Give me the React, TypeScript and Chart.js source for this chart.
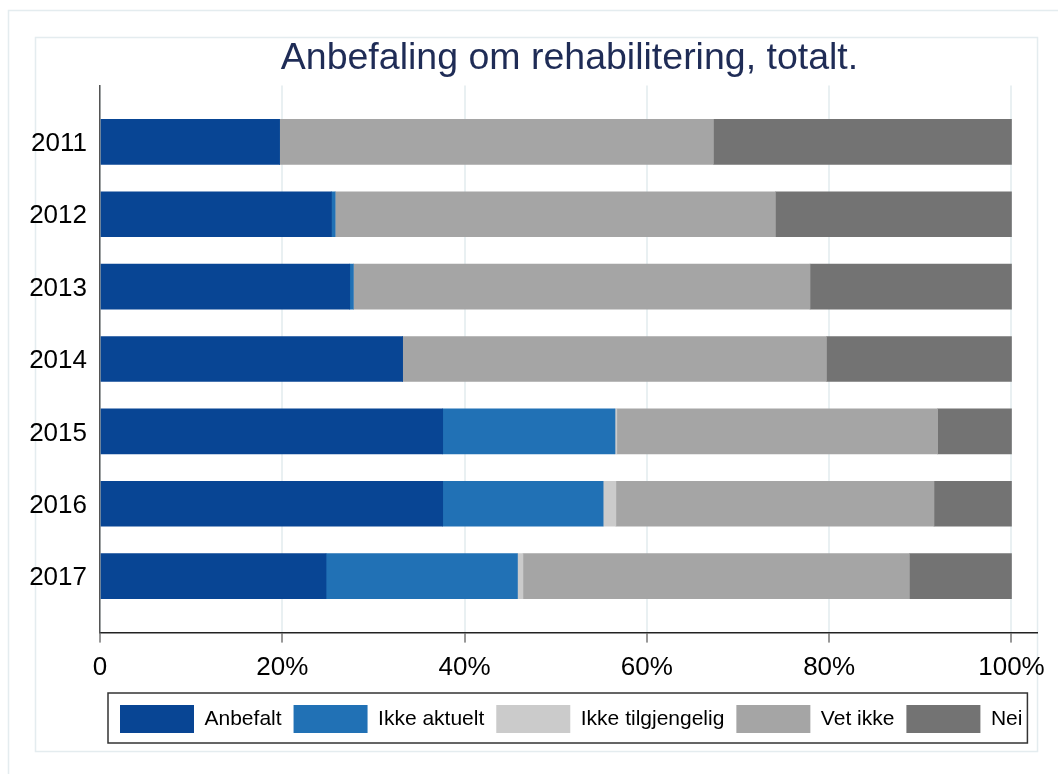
import React, { useEffect, useRef } from "react";
import { Chart, registerables } from "chart.js";

Chart.register(...registerables);

// ---- data ----
const years = ["2011", "2012", "2013", "2014", "2015", "2016", "2017"];
const anbefalt = [19.7, 25.4, 27.4, 33.2, 37.6, 37.6, 24.8];
const ikkeAktuelt = [0, 0.4, 0.4, 0, 18.9, 17.6, 21.0];
const ikkeTilgjengelig = [0, 0, 0, 0, 0.2, 1.4, 0.6];
const vetIkke = [47.6, 48.3, 50.1, 46.5, 35.2, 34.9, 42.4];
const nei = [32.7, 25.9, 22.1, 20.3, 8.1, 8.5, 11.2];
const xTicks = [0, 20, 40, 60, 80, 100];
const seriesNames = ["Anbefalt", "Ikke aktuelt", "Ikke tilgjengelig", "Vet ikke", "Nei"];
const seriesColors = ["#084594", "#2171b5", "#cbcbcb", "#a5a5a5", "#737373"];
const titleText = "Anbefaling om rehabilitering, totalt.";

const FONT = "'Liberation Sans', Arial, sans-serif";

const framePlugin = {
  id: "frames",
  afterLayout(chart: any) {
    const t = chart.titleBlock;
    if (t) {
      t.left = chart.chartArea.left;
      t.right = chart.chartArea.right + 2;
    }
    const l = chart.legend;
    if (l) {
      l.left = 108;
      l.right = 1058;
    }
  },
  beforeDraw(chart: any) {
    const ctx = chart.ctx;
    ctx.save();
    ctx.strokeStyle = "#e4ecef";
    ctx.lineWidth = 1.5;
    ctx.strokeRect(8.5, 10.5, 1100, 800);
    ctx.strokeRect(35.5, 37.5, 1002, 714);
    ctx.restore();
  },
  afterDraw(chart: any) {
    const l = chart.legend;
    if (!l) return;
    const ctx = chart.ctx;
    const pad = l.options.labels.padding;
    const right = l.left + pad + l.lineWidths[0] - pad + 5;
    ctx.save();
    ctx.strokeStyle = "#333";
    ctx.lineWidth = 1.5;
    ctx.strokeRect(l.left, l.top, right - l.left, l.bottom - l.top);
    ctx.restore();
  },
};

export default function App() {
  const ref = useRef<HTMLCanvasElement>(null);

  useEffect(() => {
    const series = [anbefalt, ikkeAktuelt, ikkeTilgjengelig, vetIkke, nei];
    const chart = new Chart(ref.current!, {
      type: "bar",
      data: {
        datasets: series.map((arr, k) => ({
          label: seriesNames[k],
          data: arr.map((v, i) => ({ x: v, y: i })),
          backgroundColor: seriesColors[k],
          borderWidth: 0,
          barThickness: 45,
        })),
      },
      options: {
        indexAxis: "y",
        animation: false,
        responsive: false,
        devicePixelRatio: 1,
        layout: { padding: { top: 30, left: 29, right: 21, bottom: 31 } },
        scales: {
          x: {
            type: "linear",
            stacked: true,
            min: 0,
            max: 102.8,
            afterBuildTicks: (s: any) => {
              s.ticks = xTicks.map((v) => ({ value: v }));
            },
            afterFit: (s: any) => {
              s.height += 0.4;
            },
            ticks: {
              padding: 9.4,
              color: "#000",
              font: { family: FONT, size: 26 },
              callback: (v: any) => (Number(v) === 0 ? "0" : v + "%"),
              maxRotation: 0,
            },
            grid: {
              color: "#e9f0f2",
              lineWidth: 2,
              tickLength: 10,
              tickColor: "#333",
              tickWidth: 1,
            },
            border: { display: true, color: "#222", width: 1.5 },
          },
          y: {
            type: "linear",
            stacked: true,
            reverse: true,
            offset: false,
            min: -0.78,
            max: 6.78,
            afterBuildTicks: (s: any) => {
              s.ticks = years.map((_, i) => ({ value: i }));
            },
            afterFit: (s: any) => {
              s.width = 71;
            },
            ticks: {
              padding: 13,
              labelOffset: 2,
              color: "#000",
              font: { family: FONT, size: 26 },
              callback: (v: any) => years[Number(v)] ?? "",
            },
            grid: { display: false, drawTicks: false, offset: false },
            border: { display: true, color: "#555", width: 1.5 },
          },
        },
        plugins: {
          title: {
            display: true,
            text: titleText,
            color: "#1f2c56",
            font: { family: FONT, size: 37.5, weight: "normal" },
            padding: { top: 6, bottom: 4.4 },
          },
          legend: {
            display: true,
            position: "bottom",
            align: "start",
            labels: {
              boxWidth: 74,
              boxHeight: 28,
              padding: 12,
              color: "#000",
              font: { family: FONT, size: 21 },
            },
          },
          tooltip: { enabled: false },
        },
      },
      plugins: [framePlugin],
    } as any);
    return () => chart.destroy();
  }, []);

  return (
    <div style={{ position: "absolute", left: 0, top: 0, width: 1058, height: 774, background: "#fff" }}>
      <canvas ref={ref} width={1058} height={774} style={{ display: "block", width: 1058, height: 774 }} />
    </div>
  );
}
